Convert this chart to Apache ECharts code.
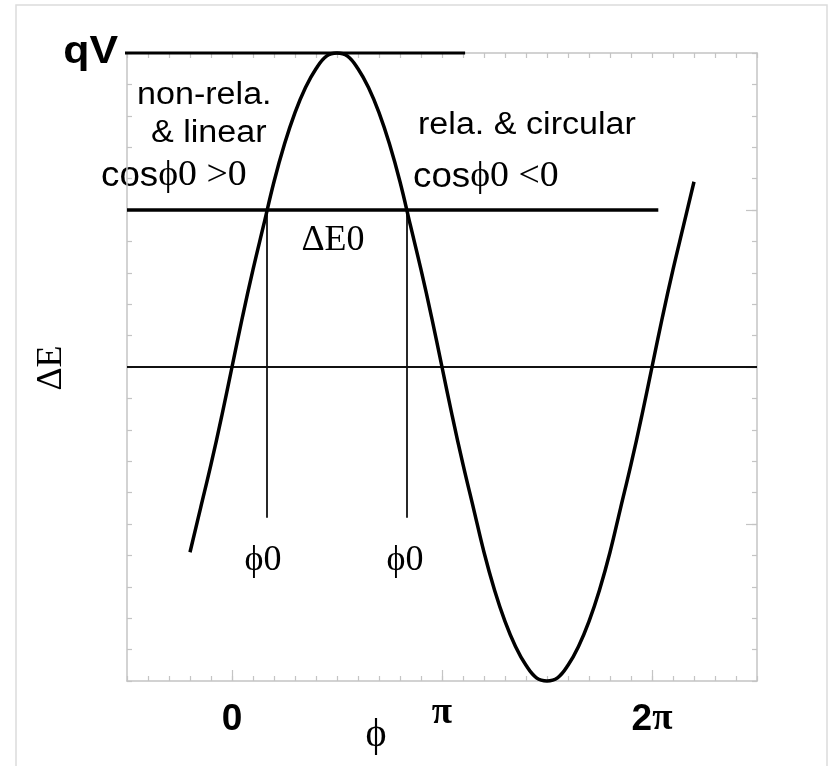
<!DOCTYPE html>
<html>
<head>
<meta charset="utf-8">
<script src="https://cdn.jsdelivr.net/npm/echarts@6/dist/echarts.min.js"></script>
<style>
  html, body { margin: 0; padding: 0; background: #fff; }
  #chart { width: 835px; height: 766px; }
</style>
</head>
<body>
<div id="chart"></div>
<script>
// Phase in units of pi, energy gain in units of qV
const phase = [-0.2, -0.15, -0.1, -0.05, 0, 0.05, 0.1, 0.15, 0.2, 0.25, 0.3, 0.35, 0.4, 0.45,
               0.5, 0.55, 0.6, 0.65, 0.7, 0.75, 0.8, 0.85, 0.9, 0.95, 1.0, 1.05, 1.1, 1.15,
               1.2, 1.25, 1.3, 1.35, 1.4, 1.45, 1.5, 1.55, 1.6, 1.65, 1.7, 1.75, 1.8, 1.85,
               1.9, 1.95, 2.0, 2.05, 2.1, 2.15, 2.2];
const deltaE = [-0.59, -0.45, -0.31, -0.16, 0, 0.16, 0.31, 0.45, 0.59, 0.71, 0.81, 0.89, 0.95, 0.99,
                1, 0.99, 0.95, 0.89, 0.81, 0.71, 0.59, 0.45, 0.31, 0.16, 0, -0.16, -0.31, -0.45,
                -0.59, -0.71, -0.81, -0.89, -0.95, -0.99, -1, -0.99, -0.95, -0.89, -0.81, -0.71, -0.59, -0.45,
                -0.31, -0.16, 0, 0.16, 0.31, 0.45, 0.59];

const qV = 1;                 // peak voltage level
const qVLineStart = -0.52;
const qVLineEnd = 1.11;       // where the qV reference line stops (pi units)
const deltaE0 = 0.5;          // synchronous energy gain
const deltaE0LineEnd = 2.03;
const phi0 = [1 / 6, 5 / 6];  // synchronous phases (pi units)
const phi0LineBottom = -0.48;

const xTickLabels = ['0', 'π', '2π'];
const xTickValues = [0, 1, 2];

const SANS = '"Liberation Sans", Arial, sans-serif';
const SERIF = '"Liberation Serif", "Times New Roman", serif';
const FRAME = '#c4c4c4';

const chart = echarts.init(document.getElementById('chart'));

function frameAxis(extra) {
  const base = {
    type: 'value',
    axisLine: { show: true, onZero: false, lineStyle: { color: FRAME, width: 1.5 } },
    axisTick: { show: true, inside: true, length: 5, lineStyle: { color: FRAME, width: 1.2 } },
    axisLabel: { show: false },
    splitLine: { show: false }
  };
  return Object.assign(base, extra);
}

const xRange = { min: -0.5, max: 2.5 };
const yRange = { min: -1, max: 1 };

const option = {
  backgroundColor: '#fff',
  animation: false,
  grid: { left: 127, top: 53, right: 78, bottom: 85, containLabel: false },
  xAxis: [
    frameAxis(Object.assign({ position: 'bottom', interval: 0.1 }, xRange)),
    frameAxis(Object.assign({
      position: 'bottom',
      axisLine: { show: false, onZero: false },
      axisTick: { show: true, inside: true, length: 11, customValues: xTickValues,
                  lineStyle: { color: FRAME, width: 1.2 } },
      axisLabel: {
        show: true, customValues: xTickValues, margin: 20,
        formatter: function (v) {
          const t = xTickLabels[xTickValues.indexOf(Math.round(v))];
          if (t === '0') return '{b|0}';
          if (t === 'π') return '{p|π}';
          return '{b|2}{q|π}';
        },
        rich: {
          b: { fontFamily: SANS, fontWeight: 'bold', fontSize: 37, color: '#000' },
          p: { fontFamily: SERIF, fontWeight: 'bold', fontSize: 37, lineHeight: 24, color: '#000' },
          q: { fontFamily: SERIF, fontWeight: 'bold', fontSize: 37, color: '#000' }
        }
      }
    }, xRange)),
    frameAxis(Object.assign({ position: 'top', interval: 0.1 }, xRange))
  ],
  yAxis: [
    frameAxis(Object.assign({ position: 'left', interval: 0.1 }, yRange)),
    frameAxis(Object.assign({ position: 'right', interval: 0.1 }, yRange)),
    frameAxis(Object.assign({
      position: 'right',
      axisLine: { show: false, onZero: false },
      axisTick: { show: true, inside: true, length: 11, customValues: [-0.5, 0, 0.5],
                  lineStyle: { color: FRAME, width: 1.2 } }
    }, yRange))
  ],
  series: [
    {
      name: 'zero',
      type: 'line',
      data: [[xRange.min, 0], [xRange.max, 0]],
      symbol: 'none', silent: true, clip: false,
      lineStyle: { color: '#111', width: 1.8 }
    },
    {
      name: 'qV',
      type: 'line',
      data: [[qVLineStart, qV], [qVLineEnd, qV]],
      symbol: 'none', silent: true, clip: false,
      lineStyle: { color: '#000', width: 3 }
    },
    {
      name: 'ΔE0',
      type: 'line',
      data: [[xRange.min, deltaE0], [deltaE0LineEnd, deltaE0]],
      symbol: 'none', silent: true, clip: false,
      lineStyle: { color: '#000', width: 3.5 }
    },
    {
      name: 'φ0 a',
      type: 'line',
      data: [[phi0[0], deltaE0], [phi0[0], phi0LineBottom]],
      symbol: 'none', silent: true, clip: false,
      lineStyle: { color: '#111', width: 1.8 }
    },
    {
      name: 'φ0 b',
      type: 'line',
      data: [[phi0[1], deltaE0], [phi0[1], phi0LineBottom]],
      symbol: 'none', silent: true, clip: false,
      lineStyle: { color: '#111', width: 1.8 }
    },
    {
      name: 'ΔE',
      type: 'line',
      data: phase.map(function (p, i) { return [p, deltaE[i]]; }),
      smooth: 0.4,
      symbol: 'none', silent: true, clip: false,
      lineStyle: { color: '#000', width: 3.5 }
    }
  ],
  graphic: [
    {
      type: 'rect', silent: true, z: -10,
      shape: { x: 16, y: 5, width: 811, height: 800 },
      style: { fill: 'none', stroke: '#dcdcdc', lineWidth: 1.5 }
    },
    {
      type: 'text', x: 118, y: 52, scaleX: 1.1, silent: true,
      style: { text: 'qV', font: 'bold 39px ' + SANS, fill: '#000', textAlign: 'right', textVerticalAlign: 'middle' }
    },
    {
      type: 'text', x: 137, y: 95, scaleX: 1.1, silent: true,
      style: { text: 'non-rela.', font: '31px ' + SANS, fill: '#000', textAlign: 'left', textVerticalAlign: 'middle' }
    },
    {
      type: 'text', x: 151, y: 133, scaleX: 1.1, silent: true,
      style: { text: '& linear', font: '31px ' + SANS, fill: '#000', textAlign: 'left', textVerticalAlign: 'middle' }
    },
    {
      type: 'text', x: 101, y: 176, scaleX: 1.05, silent: true,
      style: {
        text: '{s|cos}{g|ϕ0 >0}', textAlign: 'left', textVerticalAlign: 'middle',
        rich: {
          s: { fontFamily: SANS, fontSize: 35, fill: '#000' },
          g: { fontFamily: SERIF, fontSize: 36, fill: '#000' }
        }
      }
    },
    {
      type: 'text', x: 418, y: 125, scaleX: 1.1, silent: true,
      style: { text: 'rela. & circular', font: '31px ' + SANS, fill: '#000', textAlign: 'left', textVerticalAlign: 'middle' }
    },
    {
      type: 'text', x: 413, y: 177, scaleX: 1.05, silent: true,
      style: {
        text: '{s|cos}{g|ϕ0 <0}', textAlign: 'left', textVerticalAlign: 'middle',
        rich: {
          s: { fontFamily: SANS, fontSize: 35, fill: '#000' },
          g: { fontFamily: SERIF, fontSize: 36, fill: '#000' }
        }
      }
    },
    {
      type: 'text', x: 333, y: 241, silent: true,
      style: { text: 'ΔE0', font: '36px ' + SERIF, fill: '#000', textAlign: 'center', textVerticalAlign: 'middle' }
    },
    {
      type: 'text', x: 263, y: 561, silent: true,
      style: { text: 'ϕ0', font: '36px ' + SERIF, fill: '#000', textAlign: 'center', textVerticalAlign: 'middle' }
    },
    {
      type: 'text', x: 405, y: 561, silent: true,
      style: { text: 'ϕ0', font: '36px ' + SERIF, fill: '#000', textAlign: 'center', textVerticalAlign: 'middle' }
    },
    {
      type: 'text', x: 52, y: 368, rotation: Math.PI / 2, silent: true,
      style: { text: 'ΔE', font: '36px ' + SERIF, fill: '#000', textAlign: 'center', textVerticalAlign: 'middle' }
    },
    {
      type: 'text', x: 376, y: 735, silent: true,
      style: { text: 'ϕ', font: '40px ' + SERIF, fill: '#000', textAlign: 'center', textVerticalAlign: 'middle' }
    }
  ]
};

chart.setOption(option);
</script>
</body>
</html>
